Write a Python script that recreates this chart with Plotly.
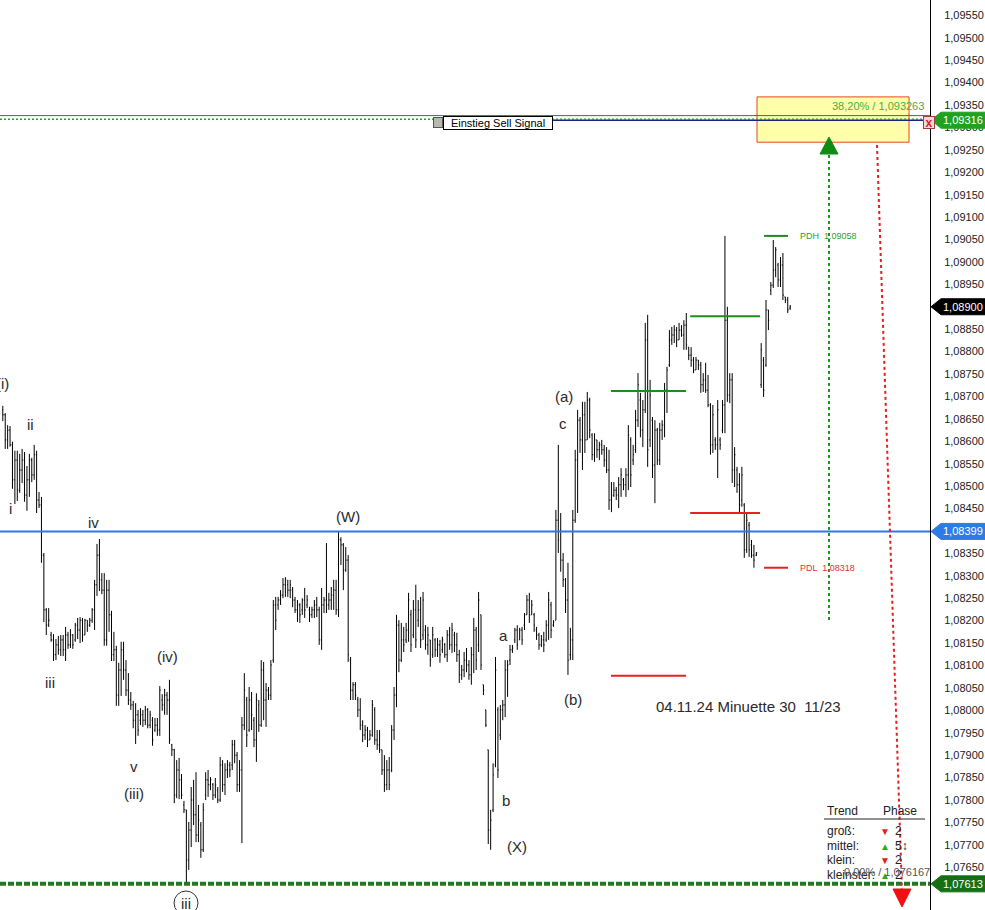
import plotly.graph_objects as go

FONT = "Liberation Sans, Arial, sans-serif"

# ---------------- data (EUR/USD 30-min bars) ----------------
high = [
1.08679,1.08663,1.08636,1.08634,1.08599,1.08579,1.08579,1.08572,1.08583,1.08576,
1.08545,1.08572,1.08563,1.08592,1.08579,1.08487,1.08476,1.08351,1.08228,1.08228,
1.08175,1.08170,1.08159,1.08166,1.08168,1.08168,1.08186,1.08175,1.08181,1.08170,
1.08195,1.08206,1.08208,1.08206,1.08204,1.08201,1.08206,1.08228,1.08291,1.08371,
1.08382,1.08306,1.08306,1.08291,1.08291,1.08222,1.08175,1.08144,1.08106,1.08153,
1.08153,1.08112,1.08083,1.08041,1.08021,1.08016,1.08001,1.08005,1.08001,1.08010,
1.08005,1.07999,1.07985,1.07983,1.07983,1.08054,1.08036,1.08048,1.08041,1.08068,
1.07925,1.07914,1.07889,1.07894,1.07858,1.07798,1.07778,1.07751,1.07829,1.07845,
1.07862,1.07789,1.07751,1.07793,1.07862,1.07867,1.07851,1.07838,1.07849,1.07829,
1.07896,1.07889,1.07882,1.07889,1.07885,1.07934,1.07934,1.07907,1.07889,1.07985,
1.08083,1.08030,1.08052,1.08041,1.07985,1.08038,1.08023,1.08112,1.08108,1.08061,
1.08052,1.08112,1.08246,1.08253,1.08253,1.08268,1.08295,1.08297,1.08291,1.08291,
1.08275,1.08253,1.08246,1.08239,1.08250,1.08273,1.08257,1.08231,1.08231,1.08246,
1.08253,1.08231,1.08273,1.08253,1.08373,1.08262,1.08275,1.08291,1.08291,1.08398,
1.08386,1.08373,1.08364,1.08346,1.08119,1.08063,1.08063,1.08030,1.08027,1.07978,
1.07967,1.07963,1.07956,1.08023,1.08007,1.07956,1.07956,1.07912,1.07900,1.07889,
1.07896,1.07967,1.08052,1.08213,1.08201,1.08195,1.08186,1.08195,1.08262,1.08224,
1.08246,1.08280,1.08246,1.08253,1.08264,1.08190,1.08186,1.08157,1.08186,1.08161,
1.08161,1.08157,1.08164,1.08150,1.08179,1.08186,1.08195,1.08175,1.08173,1.08135,
1.08101,1.08130,1.08139,1.08112,1.08141,1.08206,1.08186,1.08264,1.08213,1.08057,
1.08001,1.07912,1.07778,1.07882,1.08119,1.08007,1.08012,1.08023,1.08112,1.08112,
1.08146,1.08146,1.08184,1.08190,1.08184,1.08186,1.08217,1.08257,1.08262,1.08246,
1.08217,1.08186,1.08173,1.08168,1.08175,1.08201,1.08264,1.08242,1.08201,1.08447,
1.08592,1.08440,1.08351,1.08295,1.08329,1.08184,1.08447,1.08581,1.08670,1.08654,
1.08688,1.08688,1.08710,1.08697,1.08618,1.08618,1.08603,1.08599,1.08603,1.08592,
1.08587,1.08581,1.08509,1.08509,1.08498,1.08520,1.08540,1.08518,1.08540,1.08636,
1.08609,1.08592,1.08670,1.08752,1.08708,1.08692,1.08864,1.08882,1.08737,1.08654,
1.08647,1.08630,1.08641,1.08647,1.08730,1.08766,1.08848,1.08855,1.08859,1.08855,
1.08864,1.08859,1.08870,1.08886,1.08810,1.08810,1.08788,1.08788,1.08781,1.08777,
1.08752,1.08775,1.08748,1.08685,1.08681,1.08609,1.08692,1.08609,1.08692,1.09058,
1.08900,1.08752,1.08752,1.08587,1.08543,1.08529,1.08543,1.08462,1.08440,1.08420,
1.08380,1.08369,1.08353,1.08819,1.08788,1.08915,1.08893,1.08955,1.09049,1.09033,
1.08998,1.09011,1.09020,1.08922,1.08922,1.08904]

low = [
1.08645,1.08583,1.08583,1.08588,1.08494,1.08460,1.08467,1.08485,1.08507,1.08465,
1.08445,1.08476,1.08509,1.08514,1.08440,1.08451,1.08329,1.08197,1.08168,1.08186,
1.08153,1.08110,1.08112,1.08124,1.08121,1.08121,1.08110,1.08137,1.08139,1.08137,
1.08153,1.08159,1.08150,1.08153,1.08168,1.08175,1.08186,1.08195,1.08179,1.08255,
1.08266,1.08259,1.08144,1.08144,1.08175,1.08110,1.08110,1.08010,1.08010,1.08032,
1.08068,1.08032,1.08012,1.08001,1.07960,1.07925,1.07943,1.07967,1.07963,1.07967,
1.07960,1.07960,1.07921,1.07952,1.07943,1.07943,1.07999,1.07990,1.07990,1.07925,
1.07898,1.07793,1.07804,1.07802,1.07802,1.07771,1.07613,1.07644,1.07695,1.07744,
1.07706,1.07706,1.07671,1.07684,1.07800,1.07807,1.07822,1.07800,1.07804,1.07793,
1.07796,1.07818,1.07811,1.07849,1.07851,1.07867,1.07882,1.07818,1.07818,1.07704,
1.07956,1.07918,1.07952,1.07956,1.07918,1.07885,1.07952,1.07963,1.07978,1.07963,
1.08023,1.08023,1.08106,1.08179,1.08224,1.08235,1.08250,1.08253,1.08253,1.08250,
1.08230,1.08217,1.08197,1.08195,1.08213,1.08206,1.08228,1.08197,1.08206,1.08206,
1.08208,1.08146,1.08135,1.08217,1.08217,1.08224,1.08224,1.08224,1.08213,1.08208,
1.08324,1.08268,1.08309,1.08108,1.08023,1.08023,1.08023,1.07985,1.07956,1.07929,
1.07934,1.07918,1.07934,1.07941,1.07923,1.07912,1.07905,1.07856,1.07818,1.07822,
1.07822,1.07862,1.07934,1.08007,1.08085,1.08108,1.08130,1.08150,1.08153,1.08130,
1.08161,1.08139,1.08186,1.08139,1.08157,1.08135,1.08124,1.08097,1.08117,1.08119,
1.08119,1.08106,1.08128,1.08117,1.08108,1.08135,1.08128,1.08130,1.08108,1.08061,
1.08068,1.08074,1.08085,1.08068,1.08057,1.08083,1.08090,1.08130,1.08090,1.08034,
1.07963,1.07702,1.07689,1.07773,1.07873,1.07849,1.07934,1.07978,1.07985,1.08030,
1.08101,1.08128,1.08150,1.08135,1.08157,1.08146,1.08179,1.08213,1.08195,1.08213,
1.08175,1.08157,1.08135,1.08141,1.08130,1.08153,1.08157,1.08161,1.08186,1.08201,
1.08351,1.08309,1.08275,1.08217,1.08079,1.08112,1.08112,1.08418,1.08440,1.08574,
1.08536,1.08574,1.08603,1.08607,1.08558,1.08554,1.08563,1.08558,1.08570,1.08543,
1.08529,1.08447,1.08442,1.08476,1.08469,1.08451,1.08476,1.08491,1.08476,1.08491,
1.08498,1.08547,1.08574,1.08632,1.08609,1.08587,1.08663,1.08543,1.08587,1.08518,
1.08462,1.08547,1.08547,1.08603,1.08609,1.08663,1.08766,1.08815,1.08819,1.08810,
1.08826,1.08833,1.08804,1.08804,1.08781,1.08766,1.08752,1.08759,1.08759,1.08708,
1.08710,1.08708,1.08676,1.08570,1.08574,1.08581,1.08518,1.08581,1.08618,1.08618,
1.08688,1.08685,1.08507,1.08498,1.08485,1.08440,1.08454,1.08340,1.08351,1.08342,
1.08340,1.08318,1.08344,1.08719,1.08699,1.08766,1.08848,1.08926,1.08942,1.08966,
1.08944,1.08944,1.08915,1.08908,1.08886,1.08893]

open_ = [
1.08670,1.08659,1.08603,1.08625,1.08592,1.08514,1.08558,1.08491,1.08536,1.08558,
1.08480,1.08514,1.08558,1.08525,1.08570,1.08469,1.08458,1.08346,1.08224,1.08190,
1.08168,1.08157,1.08124,1.08146,1.08135,1.08157,1.08135,1.08168,1.08146,1.08168,
1.08157,1.08190,1.08179,1.08201,1.08168,1.08201,1.08190,1.08201,1.08224,1.08280,
1.08346,1.08291,1.08268,1.08157,1.08268,1.08213,1.08124,1.08135,1.08034,1.08090,
1.08135,1.08090,1.08045,1.08023,1.08012,1.07978,1.07990,1.07978,1.07990,1.07978,
1.08001,1.07967,1.07978,1.07956,1.07967,1.07956,1.08023,1.08012,1.08034,1.08023,
1.07923,1.07912,1.07811,1.07867,1.07845,1.07789,1.07778,1.07666,1.07733,1.07800,
1.07767,1.07722,1.07744,1.07689,1.07811,1.07845,1.07834,1.07834,1.07811,1.07822,
1.07800,1.07878,1.07834,1.07867,1.07878,1.07878,1.07923,1.07900,1.07834,1.07867,
1.07967,1.08023,1.07956,1.08023,1.07978,1.07934,1.08012,1.07967,1.08090,1.08023,
1.08045,1.08034,1.08112,1.08235,1.08235,1.08246,1.08257,1.08280,1.08280,1.08268,
1.08268,1.08246,1.08224,1.08235,1.08224,1.08246,1.08235,1.08224,1.08213,1.08224,
1.08235,1.08224,1.08157,1.08235,1.08246,1.08235,1.08246,1.08257,1.08268,1.08224,
1.08380,1.08369,1.08313,1.08335,1.08112,1.08045,1.08057,1.08023,1.08001,1.07967,
1.07945,1.07956,1.07934,1.07945,1.08001,1.07934,1.07923,1.07912,1.07867,1.07834,
1.07867,1.07867,1.07956,1.08034,1.08190,1.08112,1.08157,1.08157,1.08179,1.08213,
1.08168,1.08224,1.08201,1.08224,1.08168,1.08179,1.08146,1.08157,1.08124,1.08157,
1.08135,1.08146,1.08135,1.08146,1.08124,1.08168,1.08146,1.08168,1.08146,1.08124,
1.08079,1.08090,1.08112,1.08101,1.08079,1.08124,1.08179,1.08146,1.08213,1.08057,
1.08001,1.07912,1.07733,1.07778,1.07878,1.08001,1.07945,1.08001,1.08012,1.08090,
1.08112,1.08135,1.08157,1.08179,1.08157,1.08179,1.08190,1.08213,1.08246,1.08213,
1.08213,1.08179,1.08168,1.08146,1.08157,1.08157,1.08190,1.08235,1.08190,1.08201,
1.08424,1.08402,1.08335,1.08291,1.08246,1.08124,1.08157,1.08424,1.08558,1.08647,
1.08603,1.08659,1.08603,1.08692,1.08614,1.08570,1.08603,1.08581,1.08592,1.08581,
1.08558,1.08536,1.08469,1.08480,1.08491,1.08480,1.08503,1.08514,1.08503,1.08525,
1.08603,1.08558,1.08581,1.08647,1.08692,1.08625,1.08670,1.08826,1.08603,1.08647,
1.08547,1.08625,1.08558,1.08625,1.08636,1.08714,1.08770,1.08826,1.08837,1.08848,
1.08826,1.08848,1.08837,1.08859,1.08810,1.08792,1.08781,1.08759,1.08781,1.08770,
1.08726,1.08737,1.08714,1.08681,1.08592,1.08603,1.08592,1.08603,1.08625,1.08681,
1.08870,1.08703,1.08737,1.08536,1.08536,1.08503,1.08469,1.08458,1.08358,1.08413,
1.08369,1.08346,1.08346,1.08726,1.08781,1.08770,1.08893,1.08937,1.08948,1.08982,
1.08993,1.08960,1.08993,1.08922,1.08915,1.08897]

close = [
1.08659,1.08603,1.08625,1.08592,1.08514,1.08558,1.08491,1.08536,1.08558,1.08480,
1.08514,1.08558,1.08525,1.08570,1.08469,1.08458,1.08346,1.08224,1.08190,1.08201,
1.08157,1.08124,1.08146,1.08135,1.08157,1.08135,1.08168,1.08146,1.08168,1.08146,
1.08190,1.08179,1.08201,1.08168,1.08201,1.08190,1.08201,1.08224,1.08280,1.08346,
1.08291,1.08268,1.08157,1.08268,1.08213,1.08124,1.08135,1.08034,1.08090,1.08135,
1.08090,1.08045,1.08023,1.08012,1.07978,1.07990,1.07956,1.07990,1.07978,1.08001,
1.07967,1.07990,1.07934,1.07967,1.07956,1.08045,1.08012,1.08034,1.08023,1.07934,
1.07912,1.07811,1.07867,1.07845,1.07811,1.07778,1.07666,1.07733,1.07800,1.07767,
1.07722,1.07755,1.07689,1.07778,1.07845,1.07834,1.07845,1.07811,1.07834,1.07800,
1.07878,1.07834,1.07867,1.07878,1.07867,1.07923,1.07900,1.07834,1.07867,1.07967,
1.08045,1.07945,1.08023,1.07990,1.07934,1.08023,1.07967,1.08090,1.08023,1.08045,
1.08034,1.08101,1.08235,1.08201,1.08246,1.08257,1.08280,1.08291,1.08268,1.08280,
1.08246,1.08224,1.08235,1.08213,1.08246,1.08224,1.08246,1.08213,1.08224,1.08235,
1.08224,1.08157,1.08235,1.08246,1.08235,1.08246,1.08257,1.08268,1.08224,1.08380,
1.08369,1.08313,1.08335,1.08124,1.08045,1.08057,1.08034,1.08001,1.07967,1.07945,
1.07956,1.07934,1.07945,1.08012,1.07934,1.07923,1.07912,1.07867,1.07834,1.07867,
1.07834,1.07956,1.08034,1.08190,1.08112,1.08157,1.08146,1.08179,1.08246,1.08146,
1.08224,1.08157,1.08224,1.08157,1.08246,1.08146,1.08168,1.08112,1.08168,1.08135,
1.08146,1.08124,1.08157,1.08124,1.08168,1.08146,1.08179,1.08146,1.08124,1.08079,
1.08090,1.08112,1.08101,1.08079,1.08124,1.08179,1.08112,1.08246,1.08101,1.08045,
1.07967,1.07733,1.07755,1.07856,1.08090,1.07867,1.08001,1.08012,1.08090,1.08101,
1.08135,1.08139,1.08179,1.08146,1.08179,1.08157,1.08213,1.08246,1.08213,1.08235,
1.08190,1.08168,1.08146,1.08157,1.08146,1.08190,1.08246,1.08179,1.08197,1.08424,
1.08380,1.08335,1.08291,1.08246,1.08112,1.08157,1.08424,1.08558,1.08647,1.08603,
1.08659,1.08603,1.08692,1.08625,1.08570,1.08603,1.08581,1.08592,1.08581,1.08558,
1.08536,1.08469,1.08480,1.08491,1.08480,1.08503,1.08525,1.08503,1.08525,1.08614,
1.08525,1.08570,1.08647,1.08726,1.08625,1.08670,1.08826,1.08581,1.08703,1.08547,
1.08625,1.08558,1.08625,1.08636,1.08714,1.08759,1.08826,1.08837,1.08848,1.08826,
1.08848,1.08837,1.08859,1.08815,1.08792,1.08781,1.08759,1.08781,1.08770,1.08726,
1.08737,1.08714,1.08681,1.08592,1.08659,1.08592,1.08670,1.08592,1.08681,1.08870,
1.08703,1.08737,1.08536,1.08570,1.08503,1.08458,1.08525,1.08358,1.08424,1.08358,
1.08346,1.08335,1.08351,1.08804,1.08714,1.08893,1.08870,1.08948,1.08982,1.09027,
1.08960,1.08993,1.08926,1.08915,1.08893,1.08900]

BARS_AFTER_WEEKEND_GAP = 13

# horizontal level markers drawn on the chart: price, from-bar, to-bar, colour
level_price = [1.08712, 1.08077, 1.08879, 1.08440, 1.09058, 1.08318]
level_from = [251.8, 251.8, 284.6, 284.6, 315.2, 315.2]
level_to = [282.9, 282.9, 313.5, 313.5, 325.1, 325.1]
level_color = ["#1e8c1e", "#e82020", "#1e8c1e", "#e82020", "#1e8c1e", "#e82020"]

pdh_text, pdh_val = "PDH  1.09058", 1.09058
pdl_text, pdl_val = "PDL  1.08318", 1.08318

support_blue = 1.08399
fib_level = 1.093263
signal_level = 1.09316
bottom_level = 1.07613

fib_box_top, fib_box_bottom = 1.09368, 1.09267
fib_text = "38,20% / 1,093263"

tag_text = ["1,09316", "1,08900", "1,08399", "1,07613"]
tag_color = ["#22a022", "#000000", "#2f7be6", "#157015"]

tick_text = ["1,07650", "1,07700", "1,07750", "1,07800", "1,07850", "1,07900", "1,07950",
             "1,08000", "1,08050", "1,08100", "1,08150", "1,08200", "1,08250", "1,08300",
             "1,08350", "1,08400", "1,08450", "1,08500", "1,08550", "1,08600", "1,08650",
             "1,08700", "1,08750", "1,08800", "1,08850", "1,08900", "1,08950", "1,09000",
             "1,09050", "1,09100", "1,09150", "1,09200", "1,09250", "1,09300", "1,09350",
             "1,09400", "1,09450", "1,09500", "1,09550"]

# ---------------- figure ----------------
W, H = 985, 910
PLOT_W = 930
Y_MIN, Y_MAX = 1.075547, 1.095841
X_MIN, X_MAX = -1.16, 383.9

n = min(len(high), len(low), len(open_), len(close))
gap_at = n - BARS_AFTER_WEEKEND_GAP
xs = [i if i < gap_at else i + 1 for i in range(n)]


def PX(px):
    return px / PLOT_W


def PY(py):
    return 1 - py / H


def VP(v):
    return (v - Y_MIN) / (Y_MAX - Y_MIN)


fig = go.Figure()
fig.add_trace(go.Ohlc(
    x=xs, open=open_[:n], high=high[:n], low=low[:n], close=close[:n],
    increasing=dict(line=dict(color="black", width=1)),
    decreasing=dict(line=dict(color="black", width=1)),
    tickwidth=0.35, hoverinfo="none", showlegend=False))

shapes = []
annotations = []

# yellow fib box
shapes.append(dict(type="rect", xref="paper", yref="y", x0=PX(757), x1=PX(909),
                   y0=fib_box_bottom, y1=fib_box_top, fillcolor="rgba(255,255,140,0.75)",
                   line=dict(color="#e8451e", width=1), layer="above"))
# full-width level lines
shapes.append(dict(type="line", xref="paper", yref="y", x0=0, x1=1, y0=fib_level, y1=fib_level,
                   line=dict(color="#1e8c1e", width=1)))
shapes.append(dict(type="line", xref="paper", yref="y", x0=PX(553), x1=PX(925), y0=signal_level,
                   y1=signal_level, line=dict(color="#1a237e", width=1.5)))
shapes.append(dict(type="line", xref="paper", yref="y", x0=0, x1=PX(925), y0=signal_level + 0.00002,
                   y1=signal_level + 0.00002, line=dict(color="#2a9a2a", width=1.5, dash="2px,2px")))
shapes.append(dict(type="line", xref="paper", yref="y", x0=0, x1=1, y0=support_blue, y1=support_blue,
                   line=dict(color="#2f78e8", width=2)))
shapes.append(dict(type="line", xref="paper", yref="y", x0=0, x1=1, y0=bottom_level, y1=bottom_level,
                   line=dict(color="#1f7a1f", width=4, dash="6px,2px")))

# short level lines
for v, a, b, c in zip(level_price, level_from, level_to, level_color):
    shapes.append(dict(type="line", xref="x", yref="y", x0=a, x1=b, y0=v, y1=v,
                       line=dict(color=c, width=2)))

# green dotted arrow (up)
shapes.append(dict(type="line", xref="paper", yref="paper", x0=PX(829), x1=PX(829),
                   y0=PY(620), y1=PY(153), line=dict(color="#1a9a1a", width=2, dash="dot")))
shapes.append(dict(type="path", xref="paper", yref="paper",
                   path=f"M {PX(820)},{PY(154)} L {PX(838)},{PY(154)} L {PX(829)},{PY(137)} Z",
                   fillcolor="#138a13", line=dict(color="#138a13", width=1)))
# red dotted arrow (down)
shapes.append(dict(type="line", xref="paper", yref="paper", x0=PX(877), x1=PX(902),
                   y0=PY(145), y1=PY(891), line=dict(color="#e52020", width=2, dash="dot")))
shapes.append(dict(type="path", xref="paper", yref="paper",
                   path=f"M {PX(893)},{PY(889)} L {PX(911)},{PY(889)} L {PX(902)},{PY(907)} Z",
                   fillcolor="#ee1111", line=dict(color="#ee1111", width=1)))

# circled (iii)
shapes.append(dict(type="circle", xref="paper", yref="paper", x0=PX(174), x1=PX(198),
                   y0=PY(915), y1=PY(891), line=dict(color="#333", width=1)))

# table underline
shapes.append(dict(type="line", xref="paper", yref="paper", x0=PX(824), x1=PX(925),
                   y0=PY(819), y1=PY(819), line=dict(color="#222", width=1)))

# price tags on the axis
for t, v, c in zip(tag_text, [signal_level, close[n - 1], support_blue, bottom_level], tag_color):
    yc = VP(v)
    h = 8 / H
    shapes.append(dict(type="path", xref="paper", yref="paper",
                       path=(f"M {PX(931)},{yc} L {PX(941)},{yc + h} L {PX(986)},{yc + h} "
                             f"L {PX(986)},{yc - h} L {PX(941)},{yc - h} Z"),
                       fillcolor=c, line=dict(color=c, width=1), layer="above"))
    annotations.append(dict(xref="paper", yref="paper", x=PX(963), y=yc, text=t, showarrow=False,
                            font=dict(family=FONT, size=11, color="white"),
                            xanchor="center", yanchor="middle"))

# PDH / PDL texts
annotations.append(dict(xref="paper", yref="y", x=PX(798), y=pdh_val, text=pdh_text, showarrow=False,
                        xanchor="left", yanchor="middle", font=dict(family=FONT, size=9, color="#2e9e2e")))
annotations.append(dict(xref="paper", yref="y", x=PX(798), y=pdl_val, text=pdl_text, showarrow=False,
                        xanchor="left", yanchor="middle", font=dict(family=FONT, size=9, color="#e53030")))

# fib text
annotations.append(dict(xref="paper", yref="paper", x=PX(926), y=PY(106), text=fib_text,
                        showarrow=False, xanchor="right", yanchor="middle",
                        font=dict(family=FONT, size=11, color="#45b045")))

# Einstieg label
annotations.append(dict(xref="paper", yref="paper", x=PX(438), y=PY(123), text=" ",
                        showarrow=False, xanchor="center", yanchor="middle", width=8, height=9,
                        bgcolor="#b8b8b0", bordercolor="#555", borderwidth=1, borderpad=0,
                        font=dict(family=FONT, size=8)))
annotations.append(dict(xref="paper", yref="paper", x=PX(443), y=PY(123),
                        text="Einstieg Sell Signal", showarrow=False, xanchor="left",
                        yanchor="middle", bgcolor="white", bordercolor="black", borderwidth=1,
                        borderpad=0, width=108, align="center",
                        font=dict(family=FONT, size=11, color="black")))
# red X
annotations.append(dict(xref="paper", yref="paper", x=PX(929), y=PY(123), text="<b>x</b>",
                        showarrow=False, xanchor="center", yanchor="middle", bgcolor="#eadada",
                        bordercolor="#a04040", borderwidth=1, borderpad=0, width=10, height=11,
                        font=dict(family=FONT, size=12, color="#e02020")))

# wave labels
wave_text = ["(i)", "ii", "i", "iv", "iii", "(iv)", "v", "(iii)", "iii", "(W)", "a", "b", "(X)",
             "(a)", "c", "(b)"]
wave_pos = [(11, 383), (30, 424), (10, 508), (93, 522), (50, 682), (167, 656), (134, 766),
            (134, 793), (186, 903), (348, 516), (503, 635), (506, 800), (517, 846), (564, 396),
            (563, 423), (573, 699)]
for i, (t, (px, py)) in enumerate(zip(wave_text, wave_pos)):
    annotations.append(dict(xref="paper", yref="paper", x=PX(px), y=PY(py), text=t,
                            showarrow=False, xanchor="right" if i == 0 else "center",
                            yanchor="middle", font=dict(family=FONT, size=15, color="#2a2a2a")))

annotations.append(dict(xref="paper", yref="paper", x=PX(748), y=PY(706),
                        text="04.11.24 Minuette 30\u00a0 11/23", showarrow=False,
                        xanchor="center", yanchor="middle",
                        font=dict(family=FONT, size=15, color="#2a2a2a")))

# trend table
tbl_font = dict(family=FONT, size=12, color="#222")
for t, px, py in [("Trend", 825, 811), ("Phase", 881, 811), ("groß:", 825, 831),
                  ("mittel:", 825, 846), ("klein:", 825, 860), ("kleinster:", 825, 875),
                  ("2", 893, 831), ("5\u2195", 893, 846), ("2", 893, 860), ("2", 893, 875)]:
    annotations.append(dict(xref="paper", yref="paper", x=PX(px), y=PY(py), text=t,
                            showarrow=False, xanchor="left", yanchor="middle", font=tbl_font))
for sym, col, py in [("\u25bc", "#e51b1b", 831), ("\u25b2", "#22b022", 846),
                     ("\u25bc", "#e51b1b", 860), ("\u25b2", "#22b022", 875)]:
    annotations.append(dict(xref="paper", yref="paper", x=PX(885), y=PY(py), text=sym,
                            showarrow=False, xanchor="center", yanchor="middle",
                            font=dict(family=FONT, size=10, color=col)))
annotations.append(dict(xref="paper", yref="paper", x=PX(842), y=PY(872), text="0,00% / 1,076167",
                        showarrow=False, xanchor="left", yanchor="middle",
                        font=dict(family=FONT, size=11, color="#555")))

fig.update_layout(
    width=W, height=H, margin=dict(l=0, r=W - PLOT_W, t=0, b=0),
    paper_bgcolor="white", plot_bgcolor="white", showlegend=False,
    font=dict(family=FONT),
    xaxis=dict(range=[X_MIN, X_MAX], visible=False, rangeslider=dict(visible=False),
               fixedrange=True),
    yaxis=dict(range=[Y_MIN, Y_MAX], side="right", showgrid=False, zeroline=False,
               showline=True, linecolor="black", linewidth=1, ticks="",
               tickvals=[float(t.replace(",", ".")) for t in tick_text], ticktext=tick_text,
               tickfont=dict(family=FONT, size=11, color="#222"), ticklabelstandoff=11,
               fixedrange=True),
    shapes=shapes, annotations=annotations,
)

fig.write_html("out.html", config={"displayModeBar": False},
               post_script="document.body.style.margin='0';document.body.style.overflow='hidden';")
